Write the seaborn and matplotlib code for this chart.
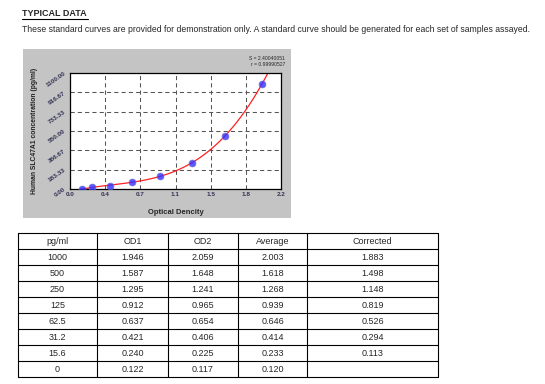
import numpy as np
import pandas as pd
import matplotlib
matplotlib.use("Agg")
import matplotlib.pyplot as plt
import seaborn as sns
from matplotlib.patches import Rectangle
from matplotlib.ticker import FixedLocator, AutoMinorLocator

# data
conc = [1000, 500, 250, 125, 62.5, 31.2, 15.6, 0]
od1 = [1.946, 1.587, 1.295, 0.912, 0.637, 0.421, 0.240, 0.122]
od2 = [2.059, 1.648, 1.241, 0.965, 0.654, 0.406, 0.225, 0.117]
average = [2.003, 1.618, 1.268, 0.939, 0.646, 0.414, 0.233, 0.120]
corrected = ["1.883", "1.498", "1.148", "0.819", "0.526", "0.294", "0.113", ""]

x_ticks = [0.0, 0.367, 0.733, 1.1, 1.467, 1.833, 2.2]
x_labels = ["0.0", "0.4", "0.7", "1.1", "1.5", "1.8", "2.2"]
y_ticks = [0, 183.33, 366.67, 550, 733.33, 916.67, 1100]
y_labels = ["0.00", "183.33", "366.67", "550.00", "733.33", "916.67", "1100.00"]

df = pd.DataFrame({"conc": conc, "od": average})

sns.set_style("white")
plt.rcParams["font.family"] = ["Liberation Sans", "DejaVu Sans"]

W, H = 545, 384
fig = plt.figure(figsize=(W / 100, H / 100), dpi=100)


def fx(px):
    return px / W


def fy(py):
    return 1 - py / H


# header
fig.text(fx(22), fy(13), "TYPICAL DATA", fontsize=6.5, fontweight="bold", va="center")
fig.add_artist(plt.Line2D([fx(22), fx(88)], [fy(18.5), fy(18.5)], color="black", lw=0.8))
fig.text(fx(22), fy(29), "These standard curves are provided for demonstration only. "
         "A standard curve should be generated for each set of samples assayed.",
         fontsize=6.2, va="center")

# gray chart box (behind the axes)
fig.patches.append(Rectangle((fx(23), fy(218)), fx(291 - 23), (218 - 49) / H,
                             facecolor="#c4c4c4", edgecolor="none", zorder=-5,
                             transform=fig.transFigure, figure=fig))

ax = fig.add_axes([fx(70), fy(189), fx(281 - 70), (189 - 73) / H])
ax.set_xlim(0, 2.2)
ax.set_ylim(0, 1100)
sns.regplot(data=df, x="od", y="conc", order=3, ci=None, truncate=False, ax=ax,
            scatter_kws=dict(s=24, color="#2f2fff", edgecolor="#6a6ad8", linewidths=0.6, zorder=3),
            line_kws=dict(color="#ff2020", lw=0.9, zorder=2))
ax.set_xlim(0, 2.2)
ax.set_ylim(0, 1100)
ax.set_facecolor("white")
ax.xaxis.set_major_locator(FixedLocator(x_ticks))
ax.yaxis.set_major_locator(FixedLocator(y_ticks))
ax.set_xticklabels(x_labels, fontsize=4.6, fontweight="bold", color="#333355")
ax.set_yticklabels(y_labels, fontsize=4.6, fontweight="bold", color="#333355", rotation=35)
ax.xaxis.set_minor_locator(AutoMinorLocator(2))
ax.tick_params(axis="both", which="both", direction="in", length=2, width=0.6, pad=2.5)
ax.grid(True, which="major", linestyle=(0, (4, 3)), color="#555555", lw=0.75)
for s in ax.spines.values():
    s.set_color("black")
    s.set_linewidth(0.9)
ax.set_xlabel("Optical Dencity", fontsize=5.5, fontweight="bold", labelpad=8)
ax.set_ylabel("Human SLC47A1 concentration (pg/ml)", fontsize=4.9, fontweight="bold",
              labelpad=5, color="#222222")

fig.text(fx(285), fy(58), "S = 2.40040051", fontsize=3.6, ha="right", va="center")
fig.text(fx(285), fy(64), "r = 0.99990527", fontsize=3.6, ha="right", va="center")

# table
col_edges = [18, 97, 168, 238, 307, 438]
top, row_h = 233, 16
header = ["pg/ml", "OD1", "OD2", "Average", "Corrected"]
rows = [header] + [
    [f"{c:g}", f"{a:.3f}", f"{b:.3f}", f"{m:.3f}", k]
    for c, a, b, m, k in zip(conc, od1, od2, average, corrected)
]
n = len(rows)
for i in range(n + 1):
    y = top + i * row_h
    fig.add_artist(plt.Line2D([fx(col_edges[0]), fx(col_edges[-1])], [fy(y), fy(y)],
                              color="black", lw=0.8))
for xe in col_edges:
    fig.add_artist(plt.Line2D([fx(xe), fx(xe)], [fy(top), fy(top + n * row_h)],
                              color="black", lw=0.8))
for i, row in enumerate(rows):
    yc = top + i * row_h + row_h / 2
    for j, txt in enumerate(row):
        xc = (col_edges[j] + col_edges[j + 1]) / 2
        fig.text(fx(xc), fy(yc), txt, fontsize=6.5, ha="center", va="center")

fig.savefig("out.png", dpi=100)
